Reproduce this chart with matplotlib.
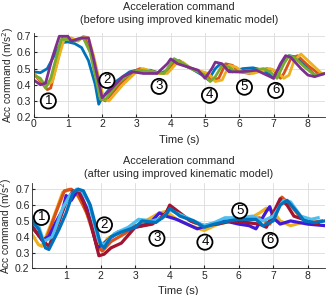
import numpy as np
import matplotlib
matplotlib.use("Agg")
import matplotlib.pyplot as plt

plt.rcParams['font.family'] = ['Liberation Sans', 'DejaVu Sans']

# matlab default line colours
c_blue = (0.0, 0.447, 0.741)
c_orange = (0.85, 0.325, 0.098)
c_yellow = (0.929, 0.694, 0.125)
c_purple = (0.494, 0.184, 0.556)
c_green = (0.466, 0.674, 0.188)
c_lblue = (0.301, 0.745, 0.933)
c_dred = (0.635, 0.078, 0.184)
c_pblue = (0.25, 0.1, 0.85)

# ---- top: before improved model ----
top_blue_t = [0, 0.2, 0.4, 0.6, 0.8, 1.0, 1.2, 1.4, 1.6, 1.8, 1.9, 2.0, 2.4, 2.8, 3.0, 3.4, 3.7, 3.9, 4.1, 4.3, 4.6, 5.0, 5.1, 5.3, 5.45, 5.6, 5.8, 6.1, 6.4, 6.7, 6.9, 7.0, 7.2, 7.45, 7.7, 8.0, 8.2, 8.5]
top_blue_y = [0.48, 0.475, 0.50, 0.58, 0.66, 0.665, 0.655, 0.63, 0.55, 0.40, 0.28, 0.32, 0.42, 0.48, 0.49, 0.49, 0.47, 0.49, 0.56, 0.53, 0.50, 0.45, 0.43, 0.50, 0.53, 0.51, 0.48, 0.50, 0.505, 0.49, 0.46, 0.44, 0.52, 0.58, 0.57, 0.50, 0.46, 0.47]

top_orange_t = [0, 0.2, 0.4, 0.5, 0.7, 0.85, 1.0, 1.2, 1.5, 1.7, 2.0, 2.1, 2.5, 2.9, 3.1, 3.5, 3.8, 4.1, 4.25, 4.5, 5.0, 5.2, 5.4, 5.6, 5.8, 6.0, 6.3, 6.8, 7.0, 7.2, 7.3, 7.5, 7.7, 8.0, 8.3, 8.5]
top_orange_y = [0.47, 0.42, 0.37, 0.38, 0.55, 0.69, 0.69, 0.68, 0.69, 0.58, 0.31, 0.30, 0.40, 0.48, 0.50, 0.48, 0.47, 0.54, 0.55, 0.51, 0.47, 0.43, 0.44, 0.53, 0.52, 0.48, 0.47, 0.50, 0.49, 0.44, 0.47, 0.56, 0.58, 0.52, 0.47, 0.47]

top_yellow_t = [0, 0.2, 0.4, 0.55, 0.75, 0.9, 1.1, 1.3, 1.45, 1.6, 1.75, 2.05, 2.2, 2.6, 3.0, 3.2, 3.6, 3.9, 4.2, 4.35, 4.6, 5.1, 5.3, 5.5, 5.7, 5.9, 6.1, 6.4, 6.9, 7.1, 7.3, 7.45, 7.6, 7.8, 8.1, 8.4, 8.5]
top_yellow_y = [0.47, 0.43, 0.40, 0.42, 0.58, 0.69, 0.69, 0.67, 0.70, 0.69, 0.58, 0.31, 0.30, 0.40, 0.48, 0.50, 0.47, 0.47, 0.54, 0.54, 0.50, 0.47, 0.42, 0.43, 0.52, 0.51, 0.48, 0.47, 0.50, 0.48, 0.44, 0.46, 0.55, 0.59, 0.53, 0.47, 0.47]

top_green_t = [0, 0.2, 0.35, 0.5, 0.7, 0.8, 1.0, 1.2, 1.45, 1.65, 1.95, 2.1, 2.5, 2.9, 3.1, 3.5, 3.8, 4.1, 4.3, 4.6, 5.0, 5.15, 5.3, 5.5, 5.7, 5.9, 6.2, 6.7, 6.9, 7.1, 7.3, 7.45, 7.6, 7.9, 8.2, 8.5]
top_green_y = [0.46, 0.44, 0.38, 0.44, 0.60, 0.68, 0.68, 0.67, 0.69, 0.60, 0.31, 0.31, 0.42, 0.48, 0.49, 0.48, 0.47, 0.56, 0.54, 0.50, 0.46, 0.42, 0.45, 0.52, 0.51, 0.48, 0.48, 0.50, 0.48, 0.44, 0.53, 0.58, 0.57, 0.51, 0.46, 0.47]

top_purple_t = [0, 0.2, 0.35, 0.55, 0.75, 1.0, 1.1, 1.4, 1.6, 1.75, 2.0, 2.2, 2.6, 2.9, 3.2, 3.6, 3.9, 4.0, 4.2, 4.5, 4.8, 5.0, 5.2, 5.3, 5.5, 5.7, 6.0, 6.5, 6.8, 7.0, 7.2, 7.35, 7.5, 7.8, 8.0, 8.2, 8.5]
top_purple_y = [0.43, 0.40, 0.41, 0.57, 0.70, 0.70, 0.67, 0.69, 0.69, 0.56, 0.32, 0.36, 0.45, 0.48, 0.47, 0.47, 0.53, 0.56, 0.53, 0.51, 0.49, 0.44, 0.50, 0.54, 0.53, 0.48, 0.48, 0.49, 0.46, 0.44, 0.53, 0.58, 0.57, 0.50, 0.46, 0.45, 0.47]

top_marks = ['1', '2', '3', '4', '5', '6']
top_mark_x = [0.43, 2.14, 3.66, 5.13, 6.15, 7.06]
top_mark_y = [0.30, 0.427, 0.39, 0.335, 0.385, 0.365]

# ---- bottom: after improved model ----
bot_blue_t = [0, 0.2, 0.4, 0.5, 0.8, 1.0, 1.2, 1.35, 1.5, 1.7, 2.0, 2.1, 2.3, 2.6, 3.0, 3.2, 3.6, 3.9, 4.0, 4.3, 4.7, 5.0, 5.3, 5.7, 6.0, 6.5, 6.7, 7.0, 7.2, 7.4, 7.6, 7.9, 8.2, 8.5]
bot_blue_y = [0.50, 0.45, 0.33, 0.32, 0.45, 0.55, 0.68, 0.70, 0.69, 0.60, 0.35, 0.33, 0.40, 0.43, 0.46, 0.50, 0.49, 0.54, 0.58, 0.53, 0.50, 0.46, 0.48, 0.50, 0.51, 0.51, 0.47, 0.50, 0.60, 0.63, 0.58, 0.50, 0.49, 0.50]

bot_lblue_t = [0, 0.2, 0.35, 0.6, 0.9, 1.1, 1.3, 1.45, 1.65, 1.95, 2.1, 2.4, 2.8, 3.1, 3.5, 3.8, 4.0, 4.2, 4.6, 5.0, 5.3, 5.6, 6.0, 6.4, 6.7, 7.0, 7.3, 7.5, 7.8, 8.1, 8.3]
bot_lblue_y = [0.52, 0.47, 0.37, 0.40, 0.58, 0.66, 0.70, 0.69, 0.62, 0.37, 0.35, 0.42, 0.46, 0.51, 0.50, 0.52, 0.57, 0.55, 0.51, 0.47, 0.49, 0.52, 0.52, 0.53, 0.50, 0.53, 0.63, 0.62, 0.53, 0.51, 0.52]

bot_dred_t = [0, 0.3, 0.5, 0.8, 1.0, 1.2, 1.35, 1.5, 1.7, 1.95, 2.1, 2.3, 2.6, 3.0, 3.5, 3.9, 4.0, 4.3, 4.6, 5.0, 5.4, 5.8, 6.2, 6.6, 6.8, 7.0, 7.2, 7.4, 7.6, 8.0, 8.3]
bot_dred_y = [0.47, 0.38, 0.34, 0.50, 0.62, 0.69, 0.69, 0.62, 0.50, 0.28, 0.29, 0.33, 0.36, 0.46, 0.48, 0.55, 0.60, 0.55, 0.50, 0.47, 0.48, 0.50, 0.49, 0.48, 0.46, 0.55, 0.64, 0.60, 0.53, 0.50, 0.48]

bot_yellow_t = [0, 0.2, 0.3, 0.6, 0.9, 1.1, 1.3, 1.5, 1.9, 2.0, 2.2, 2.5, 2.9, 3.3, 3.7, 3.9, 4.2, 4.6, 5.0, 5.4, 5.8, 6.2, 6.6, 6.8, 7.0, 7.2, 7.5, 8.0]
bot_yellow_y = [0.42, 0.35, 0.34, 0.50, 0.68, 0.70, 0.67, 0.60, 0.38, 0.32, 0.39, 0.42, 0.45, 0.50, 0.55, 0.56, 0.51, 0.47, 0.44, 0.48, 0.50, 0.50, 0.55, 0.58, 0.56, 0.50, 0.47, 0.50]

bot_orange_t = [0, 0.25, 0.4, 0.7, 0.95, 1.15, 1.35, 1.6, 1.9, 2.05, 2.3, 2.7, 3.0, 3.4, 3.8, 4.0, 4.3, 4.7, 5.0, 5.4, 5.8, 6.2, 6.6, 6.9, 7.1, 7.25, 7.5, 7.8, 8.1, 8.4]
bot_orange_y = [0.46, 0.40, 0.37, 0.55, 0.69, 0.70, 0.66, 0.55, 0.34, 0.31, 0.37, 0.42, 0.47, 0.48, 0.52, 0.59, 0.54, 0.49, 0.47, 0.49, 0.50, 0.50, 0.52, 0.48, 0.58, 0.65, 0.60, 0.52, 0.49, 0.50]

bot_pblue_t = [0, 0.3, 0.5, 0.7, 0.9, 1.0, 1.15, 1.35, 1.6, 1.9, 2.1, 2.5, 3.0, 3.4, 3.7, 3.9, 4.2, 4.5, 4.8, 5.2, 5.6, 6.0, 6.3, 6.5, 6.8, 6.9, 7.0, 7.2, 7.5, 8.0, 8.5]
bot_pblue_y = [0.47, 0.38, 0.40, 0.49, 0.57, 0.66, 0.63, 0.70, 0.58, 0.33, 0.36, 0.43, 0.46, 0.48, 0.55, 0.53, 0.51, 0.48, 0.45, 0.48, 0.50, 0.48, 0.47, 0.45, 0.56, 0.59, 0.52, 0.48, 0.50, 0.48, 0.47]

bot_marks = ['1', '2', '3', '4', '5', '6']
bot_mark_x = [0.285, 2.11, 3.63, 5.02, 6.03, 6.91]
bot_mark_y = [0.522, 0.475, 0.39, 0.366, 0.564, 0.377]

tick_col = '#262626'


def style(ax, ylim, xticks):
    ax.set_xlim(0, 8.5)
    ax.set_ylim(*ylim)
    ax.set_xticks(xticks)
    ax.set_yticks([0.2, 0.3, 0.4, 0.5, 0.6, 0.7])
    ax.set_yticklabels(['0.2', '0.3', '0.4', '0.5', '0.6', '0.7'])
    ax.grid(True, color='#dcdcdc', linewidth=0.6)
    ax.set_axisbelow(True)
    ax.tick_params(direction='in', length=2, labelsize=7.5, colors=tick_col, pad=1.5)
    for s in ['top', 'right']:
        ax.spines[s].set_visible(False)
    for s in ['left', 'bottom']:
        ax.spines[s].set_color(tick_col)
        ax.spines[s].set_linewidth(0.6)
    ax.set_xlabel('Time (s)', fontsize=8, color=tick_col, labelpad=4)
    ax.set_ylabel('Acc command (m/s$^2$)', fontsize=7.3, color=tick_col, labelpad=0.5)


def marks(ax, labels, xs, ys):
    for lab, x, y in zip(labels, xs, ys):
        ax.text(x, y, lab, fontsize=9.5, ha='center', va='center', zorder=5,
                bbox=dict(boxstyle='circle,pad=0.12', fc='white', ec='black', lw=1.3))


fig = plt.figure(figsize=(3.26, 2.95), dpi=100)

ax1 = fig.add_axes([0.103, 0.603, 0.894, 0.285])
lw = 2.0
ax1.plot(top_blue_t, top_blue_y, color=c_blue, lw=lw)
ax1.plot(top_orange_t, top_orange_y, color=c_orange, lw=lw)
ax1.plot(top_yellow_t, top_yellow_y, color=c_yellow, lw=lw)
ax1.plot(top_green_t, top_green_y, color=c_green, lw=lw)
ax1.plot(top_purple_t, top_purple_y, color=c_purple, lw=lw)
style(ax1, (0.2, 0.72), [0, 1, 2, 3, 4, 5, 6, 7, 8])
ax1.set_title('Acceleration command\n(before using improved kinematic model)',
              fontsize=7.8, color=tick_col, pad=7, linespacing=1.45)
marks(ax1, top_marks, top_mark_x, top_mark_y)

ax2 = fig.add_axes([0.097, 0.09, 0.9, 0.29])
lw = 2.3
ax2.plot(bot_yellow_t, bot_yellow_y, color=c_yellow, lw=lw)
ax2.plot(bot_orange_t, bot_orange_y, color=c_orange, lw=lw)
ax2.plot(bot_pblue_t, bot_pblue_y, color=c_pblue, lw=lw)
ax2.plot(bot_dred_t, bot_dred_y, color=c_dred, lw=lw)
ax2.plot(bot_lblue_t, bot_lblue_y, color=c_lblue, lw=lw)
ax2.plot(bot_blue_t, bot_blue_y, color=c_blue, lw=lw)
style(ax2, (0.2, 0.74), [1, 2, 3, 4, 5, 6, 7, 8])
ax2.set_title('Acceleration command\n(after using improved kinematic model)',
              fontsize=7.8, color=tick_col, pad=4, linespacing=1.45)
marks(ax2, bot_marks, bot_mark_x, bot_mark_y)

fig.savefig('out.png', dpi=100)
